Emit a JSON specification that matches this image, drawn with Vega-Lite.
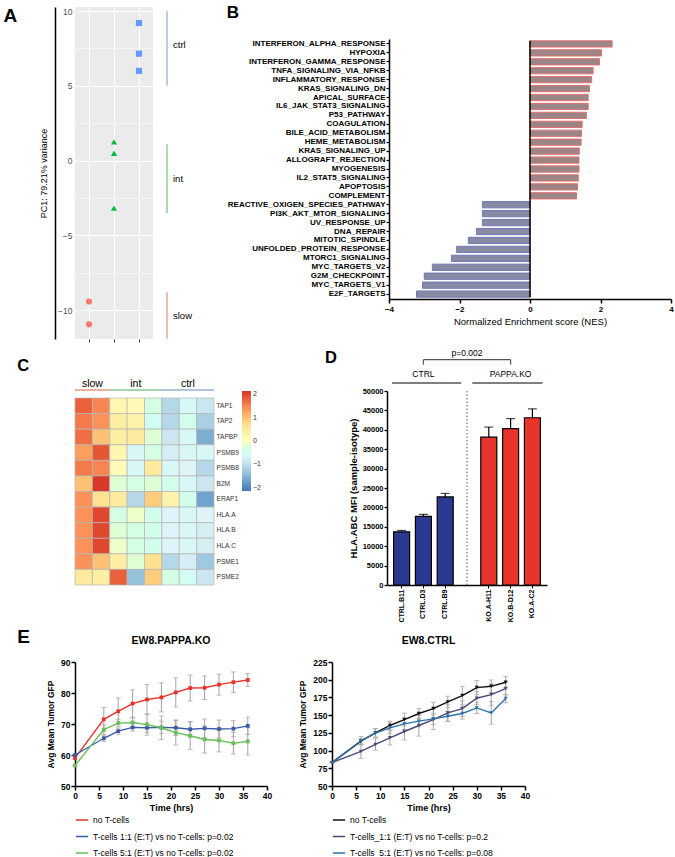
{
  "$schema": "https://vega.github.io/schema/vega-lite/v6.json",
  "background": "white",
  "padding": {"left": 3, "top": 3, "right": 0, "bottom": 0},
  "config": {
    "view": {"stroke": null},
    "font": "Liberation Sans",
    "axis": {"domainColor": "#000", "tickColor": "#000", "labelColor": "#000", "titleColor": "#000", "grid": false, "labelFont": "Liberation Sans", "titleFont": "Liberation Sans", "labelOverlap": false},
    "legend": {"labelFont": "Liberation Sans", "titleFont": "Liberation Sans", "labelColor": "#000"},
    "title": {"font": "Liberation Sans", "color": "#000"},
    "text": {"font": "Liberation Sans"}
  },
  "spacing": 5,
  "resolve": {"scale": {"x": "independent", "y": "independent", "color": "independent", "shape": "independent"}},
  "vconcat": [
    {
      "spacing": 13,
      "resolve": {"scale": {"x": "independent", "y": "independent", "color": "independent", "shape": "independent"}},
      "hconcat": [
        {
          "width": 78,
          "height": 332,
          "view": {"fill": "#ebebeb", "stroke": null},
          "title": {"text": "A", "orient": "left", "anchor": "end", "frame": "group", "angle": 0, "align": "right", "baseline": "top", "fontSize": 19, "fontWeight": "bold", "offset": 8},
          "data": {"values": [
            {"group": "ctrl", "PC1": 9.2}, {"group": "ctrl", "PC1": 7.15}, {"group": "ctrl", "PC1": 6.0},
            {"group": "int", "PC1": 1.25}, {"group": "int", "PC1": 0.49}, {"group": "int", "PC1": -3.18},
            {"group": "slow", "PC1": -9.42}, {"group": "slow", "PC1": -10.95}
          ]},
          "mark": {"type": "point", "filled": true, "size": 38, "opacity": 1},
          "encoding": {
            "x": {"field": "group", "type": "nominal", "scale": {"type": "point", "domain": ["slow", "int", "ctrl"], "padding": 0.56}, "axis": {"title": null, "labels": false, "domain": false, "ticks": true, "tickSize": 3, "tickColor": "#333333", "grid": true, "gridColor": "#ffffff", "gridWidth": 1.1}},
            "y": {"field": "PC1", "type": "quantitative", "scale": {"domain": [-11.93, 10.27], "nice": false, "zero": false}, "axis": {"orient": "left", "offset": 20, "values": [-10, -7.5, -5, -2.5, 0, 2.5, 5, 7.5, 10], "labelExpr": "datum.value % 5 == 0 ? datum.label : ''", "grid": true, "gridColor": "#ffffff", "gridWidth": {"condition": {"test": "datum.value % 5 != 0", "value": 0.5}, "value": 1.1}, "domain": true, "domainWidth": 1.5, "domainColor": "#000000", "ticks": false, "tickSize": 0, "labelPadding": -17, "labelColor": "#4d4d4d", "labelFontSize": 8.5, "title": "PC1: 79.21% variance", "titleFontSize": 9, "titleFontWeight": "normal", "titlePadding": 7}},
            "color": {"field": "group", "type": "nominal", "scale": {"domain": ["slow", "int", "ctrl"], "range": ["#F8766D", "#00BA38", "#619CFF"]}, "legend": null},
            "shape": {"field": "group", "type": "nominal", "scale": {"domain": ["slow", "int", "ctrl"], "range": ["circle", "triangle-up", "square"]}, "legend": null}
          }
        },
        {
          "width": 46,
          "height": 332,
          "data": {"values": [
            {"group": "ctrl", "top": 10.0, "bottom": 5.0, "mid": 7.7},
            {"group": "int", "top": 1.1, "bottom": -3.5, "mid": -1.2},
            {"group": "slow", "top": -8.8, "bottom": -11.93, "mid": -10.4}
          ]},
          "layer": [
            {
              "mark": {"type": "rule", "strokeWidth": 1.6},
              "encoding": {
                "x": {"datum": 0, "type": "quantitative", "scale": {"domain": [0, 1]}, "axis": null},
                "y": {"field": "top", "type": "quantitative", "scale": {"domain": [-11.93, 10.27], "nice": false, "zero": false}, "axis": null},
                "y2": {"field": "bottom"},
                "color": {"field": "group", "type": "nominal", "scale": {"domain": ["slow", "int", "ctrl"], "range": ["#f4aaa3", "#8fd3a1", "#abc1e6"]}, "legend": null}
              }
            },
            {
              "mark": {"type": "text", "align": "left", "dx": 6, "fontSize": 9.5, "color": "#000"},
              "encoding": {
                "x": {"datum": 0, "type": "quantitative"},
                "y": {"field": "mid", "type": "quantitative"},
                "text": {"field": "group"}
              }
            }
          ]
        },
        {
          "width": 282,
          "height": 292,
          "data": {"values": [
            {"pathway": "INTERFERON_ALPHA_RESPONSE", "NES": 2.33},
            {"pathway": "HYPOXIA", "NES": 2.03},
            {"pathway": "INTERFERON_GAMMA_RESPONSE", "NES": 1.97},
            {"pathway": "TNFA_SIGNALING_VIA_NFKB", "NES": 1.79},
            {"pathway": "INFLAMMATORY_RESPONSE", "NES": 1.75},
            {"pathway": "KRAS_SIGNALING_DN", "NES": 1.69},
            {"pathway": "APICAL_SURFACE", "NES": 1.65},
            {"pathway": "IL6_JAK_STAT3_SIGNALING", "NES": 1.65},
            {"pathway": "P53_PATHWAY", "NES": 1.60},
            {"pathway": "COAGULATION", "NES": 1.48},
            {"pathway": "BILE_ACID_METABOLISM", "NES": 1.46},
            {"pathway": "HEME_METABOLISM", "NES": 1.45},
            {"pathway": "KRAS_SIGNALING_UP", "NES": 1.40},
            {"pathway": "ALLOGRAFT_REJECTION", "NES": 1.39},
            {"pathway": "MYOGENESIS", "NES": 1.39},
            {"pathway": "IL2_STAT5_SIGNALING", "NES": 1.37},
            {"pathway": "APOPTOSIS", "NES": 1.35},
            {"pathway": "COMPLEMENT", "NES": 1.32},
            {"pathway": "REACTIVE_OXIGEN_SPECIES_PATHWAY", "NES": -1.35},
            {"pathway": "PI3K_AKT_MTOR_SIGNALING", "NES": -1.35},
            {"pathway": "UV_RESPONSE_UP", "NES": -1.35},
            {"pathway": "DNA_REPAIR", "NES": -1.52},
            {"pathway": "MITOTIC_SPINDLE", "NES": -1.75},
            {"pathway": "UNFOLDED_PROTEIN_RESPONSE", "NES": -2.08},
            {"pathway": "MTORC1_SIGNALING", "NES": -2.23},
            {"pathway": "MYC_TARGETS_V2", "NES": -2.77},
            {"pathway": "G2M_CHECKPOINT", "NES": -3.0},
            {"pathway": "MYC_TARGETS_V1", "NES": -3.05},
            {"pathway": "E2F_TARGETS", "NES": -3.22}
          ]},
          "layer": [
            {
              "mark": {"type": "bar", "strokeWidth": 1},
              "encoding": {
                "y": {"field": "pathway", "type": "nominal", "sort": null, "scale": {"range": [32, 292], "paddingInner": 0.3, "paddingOuter": 0.2}, "axis": {"title": null, "domain": true, "domainWidth": 1.5, "ticks": true, "tickSize": 3, "tickWidth": 1.2, "labelFontSize": 8, "labelFontWeight": "bold", "labelPadding": 1, "labelLimit": 300}},
                "x": {"field": "NES", "type": "quantitative", "scale": {"domain": [-4, 4], "nice": false}, "axis": {"values": [-4, -2, 0, 2, 4], "title": "Normalized Enrichment score (NES)", "titleFontSize": 9.5, "titleFontWeight": "normal", "titlePadding": 3, "labelFontSize": 8, "labelFontWeight": "bold", "tickSize": 4, "tickWidth": 1.5, "domainWidth": 1.5, "labelFlush": false}},
                "fill": {"condition": {"test": "datum.NES > 0", "value": "#9c8586"}, "value": "#878aa2"},
                "stroke": {"condition": {"test": "datum.NES > 0", "value": "#e2706d"}, "value": "#6f78b6"}
              }
            },
            {
              "data": {"values": [{}]},
              "mark": {"type": "rule", "strokeWidth": 1.5, "color": "#000"},
              "encoding": {
                "x": {"datum": 0},
                "y": {"datum": "INTERFERON_ALPHA_RESPONSE", "bandPosition": 0},
                "y2": {"datum": "E2F_TARGETS", "bandPosition": 1}
              }
            },
            {
              "data": {"values": [{}]},
              "mark": {"type": "text", "fontSize": 17, "fontWeight": "bold", "align": "left", "baseline": "alphabetic", "dy": -22.8, "color": "#000"},
              "encoding": {
                "x": {"datum": -8.6},
                "y": {"datum": "INTERFERON_ALPHA_RESPONSE", "bandPosition": 0},
                "text": {"value": "B"}
              }
            }
          ]
        }
      ]
    },
    {
      "spacing": 63,
      "resolve": {"scale": {"x": "independent", "y": "independent", "color": "independent", "shape": "independent"}},
      "hconcat": [
        {
          "width": 139,
          "height": 194,
          "layer": [
            {
              "data": {"values": [
                {"gene": "TAP1", "slow_1": 1.8, "slow_2": 1.5, "int_1": 0.2, "int_2": 0.15, "int_3": -0.3, "ctrl_1": -1.1, "ctrl_2": -0.6, "ctrl_3": -0.9},
                {"gene": "TAP2", "slow_1": 1.6, "slow_2": 1.4, "int_1": 0.4, "int_2": 0.3, "int_3": -0.5, "ctrl_1": -1.1, "ctrl_2": -0.4, "ctrl_3": -1.2},
                {"gene": "TAPBP", "slow_1": 1.7, "slow_2": 1.0, "int_1": 0.4, "int_2": 0.5, "int_3": -0.2, "ctrl_1": -0.9, "ctrl_2": -0.6, "ctrl_3": -1.6},
                {"gene": "PSMB9", "slow_1": 1.3, "slow_2": 1.9, "int_1": 0.2, "int_2": -0.6, "int_3": -0.3, "ctrl_1": -0.8, "ctrl_2": -0.6, "ctrl_3": -0.6},
                {"gene": "PSMB8", "slow_1": 1.6, "slow_2": 1.5, "int_1": 0.1, "int_2": -0.6, "int_3": 0.5, "ctrl_1": -0.6, "ctrl_2": -0.7, "ctrl_3": -1.1},
                {"gene": "B2M", "slow_1": 1.0, "slow_2": 2.1, "int_1": -0.2, "int_2": -0.3, "int_3": -0.2, "ctrl_1": -0.4, "ctrl_2": -0.6, "ctrl_3": -0.9},
                {"gene": "ERAP1", "slow_1": 1.4, "slow_2": 0.7, "int_1": 0.5, "int_2": -1.1, "int_3": 0.9, "ctrl_1": 0.3, "ctrl_2": -0.4, "ctrl_3": -1.7},
                {"gene": "HLA.A", "slow_1": 1.4, "slow_2": 2.0, "int_1": -0.3, "int_2": -0.1, "int_3": -0.4, "ctrl_1": -0.7, "ctrl_2": -0.6, "ctrl_3": -0.7},
                {"gene": "HLA.B", "slow_1": 1.4, "slow_2": 2.0, "int_1": -0.2, "int_2": -0.3, "int_3": -0.4, "ctrl_1": -0.7, "ctrl_2": -0.6, "ctrl_3": -0.8},
                {"gene": "HLA.C", "slow_1": 1.4, "slow_2": 2.0, "int_1": -0.1, "int_2": -0.3, "int_3": -0.4, "ctrl_1": -0.7, "ctrl_2": -0.6, "ctrl_3": -0.8},
                {"gene": "PSME1", "slow_1": 1.4, "slow_2": 1.0, "int_1": 0.4, "int_2": -0.2, "int_3": 0.7, "ctrl_1": -1.1, "ctrl_2": -0.8, "ctrl_3": -1.3},
                {"gene": "PSME2", "slow_1": 0.5, "slow_2": 0.4, "int_1": 1.8, "int_2": -1.4, "int_3": 0.9, "ctrl_1": -0.3, "ctrl_2": -0.5, "ctrl_3": -0.9}
              ]},
              "transform": [{"fold": ["slow_1", "slow_2", "int_1", "int_2", "int_3", "ctrl_1", "ctrl_2", "ctrl_3"], "as": ["sample", "z"]}],
              "mark": {"type": "rect", "stroke": "#b5b5b5", "strokeWidth": 0.7},
              "encoding": {
                "x": {"field": "sample", "type": "nominal", "scale": {"domain": ["slow_1", "slow_2", "int_1", "int_2", "int_3", "ctrl_1", "ctrl_2", "ctrl_3"], "paddingInner": 0, "paddingOuter": 0}, "axis": null},
                "y": {"field": "gene", "type": "nominal", "scale": {"domain": ["TAP1", "TAP2", "TAPBP", "PSMB9", "PSMB8", "B2M", "ERAP1", "HLA.A", "HLA.B", "HLA.C", "PSME1", "PSME2"], "range": [7, 194], "paddingInner": 0, "paddingOuter": 0}, "axis": {"orient": "right", "domain": false, "ticks": false, "labelFontSize": 6.6, "labelColor": "#333333", "labelPadding": 2, "title": null}},
                "color": {"field": "z", "type": "quantitative", "scale": {"domain": [-2.15, -1.43, -0.72, 0, 0.72, 1.43, 2.15], "range": ["#4575b4", "#91bfdb", "#e0f3f8", "#ffffbf", "#fee090", "#fc8d59", "#d73027"]}, "legend": {"title": null, "orient": "right", "offset": 3, "direction": "vertical", "gradientLength": 100, "gradientThickness": 9, "gradientStrokeWidth": 0, "values": [-2, -1, 0, 1, 2], "labelFontSize": 7, "labelColor": "#333333"}}
              }
            },
            {
              "data": {"values": [{}]},
              "mark": {"type": "text", "fontSize": 16.5, "fontWeight": "bold", "align": "left", "baseline": "alphabetic", "dy": -26.7, "color": "#000"},
              "encoding": {"x": {"datum": "slow_1", "bandPosition": -3.32}, "y": {"datum": "TAP1", "bandPosition": 0}, "text": {"value": "C"}}
            },
            {
              "data": {"values": [{}]},
              "mark": {"type": "text", "fontSize": 10.5, "baseline": "alphabetic", "dy": -11, "color": "#000"},
              "encoding": {"x": {"datum": "slow_2", "bandPosition": 0}, "y": {"datum": "TAP1", "bandPosition": 0}, "text": {"value": "slow"}}
            },
            {
              "data": {"values": [{}]},
              "mark": {"type": "text", "fontSize": 10.5, "baseline": "alphabetic", "dy": -11, "color": "#000"},
              "encoding": {"x": {"datum": "int_2"}, "y": {"datum": "TAP1", "bandPosition": 0}, "text": {"value": "int"}}
            },
            {
              "data": {"values": [{}]},
              "mark": {"type": "text", "fontSize": 10.5, "baseline": "alphabetic", "dy": -11, "color": "#000"},
              "encoding": {"x": {"datum": "ctrl_2"}, "y": {"datum": "TAP1", "bandPosition": 0}, "text": {"value": "ctrl"}}
            },
            {
              "data": {"values": [{}]},
              "mark": {"type": "rule", "strokeWidth": 1, "color": "#d9623f", "yOffset": -8},
              "encoding": {"x": {"datum": "slow_1", "bandPosition": 0}, "x2": {"datum": "slow_2", "bandPosition": 1}, "y": {"datum": "TAP1", "bandPosition": 0}}
            },
            {
              "data": {"values": [{}]},
              "mark": {"type": "rule", "strokeWidth": 1, "color": "#4fae5a", "yOffset": -8},
              "encoding": {"x": {"datum": "int_1", "bandPosition": 0}, "x2": {"datum": "int_3", "bandPosition": 1}, "y": {"datum": "TAP1", "bandPosition": 0}}
            },
            {
              "data": {"values": [{}]},
              "mark": {"type": "rule", "strokeWidth": 1, "color": "#6489bd", "yOffset": -8},
              "encoding": {"x": {"datum": "ctrl_1", "bandPosition": 0}, "x2": {"datum": "ctrl_3", "bandPosition": 1}, "y": {"datum": "TAP1", "bandPosition": 0}}
            }
          ]
        },
        {
          "width": 160,
          "height": 194,
          "data": {"values": [
            {"sample": "CTRL.B11", "group": "CTRL", "mfi": 13700, "hi": 14060},
            {"sample": "CTRL.D3", "group": "CTRL", "mfi": 17700, "hi": 18200},
            {"sample": "CTRL.B9", "group": "CTRL", "mfi": 22700, "hi": 23600},
            {"sample": "KO.A-H11", "group": "PAPPA.KO", "mfi": 38100, "hi": 40700},
            {"sample": "KO.B-D12", "group": "PAPPA.KO", "mfi": 40300, "hi": 42900},
            {"sample": "KO.A-C2", "group": "PAPPA.KO", "mfi": 43100, "hi": 45400}
          ]},
          "layer": [
            {
              "mark": {"type": "bar", "stroke": "#000", "strokeWidth": 1.2},
              "encoding": {
                "x": {"field": "sample", "type": "nominal", "scale": {"domain": ["CTRL.B11", "CTRL.D3", "CTRL.B9", " ", "KO.A-H11", "KO.B-D12", "KO.A-C2"], "paddingInner": 0.266, "paddingOuter": 0.303}, "axis": {"title": null, "labelAngle": 270, "labelFontSize": 7, "labelFontWeight": "bold", "labelPadding": 1, "ticks": true, "tickSize": 3, "tickWidth": 1, "tickOpacity": {"condition": {"test": "datum.value === ' '", "value": 0}, "value": 1}, "domain": true, "domainWidth": 1.5}},
                "y": {"field": "mfi", "type": "quantitative", "scale": {"domain": [0, 50000], "nice": false}, "axis": {"values": [0, 5000, 10000, 15000, 20000, 25000, 30000, 35000, 40000, 45000, 50000], "format": "d", "labelOverlap": false, "labelFontSize": 7.5, "labelFontWeight": "bold", "labelPadding": 1, "tickSize": 3, "tickWidth": 1.3, "domainWidth": 1.5, "title": "HLA.ABC MFI (sample-isotype)", "titleFontSize": 9.5, "titleFontWeight": "bold", "titlePadding": 4}},
                "color": {"field": "group", "type": "nominal", "scale": {"domain": ["CTRL", "PAPPA.KO"], "range": ["#2b3990", "#e8342b"]}, "legend": null}
              }
            },
            {
              "mark": {"type": "rule", "strokeWidth": 1.2, "color": "#000"},
              "encoding": {
                "x": {"field": "sample", "type": "nominal"},
                "y": {"field": "mfi", "type": "quantitative", "axis": {"values": [0, 5000, 10000, 15000, 20000, 25000, 30000, 35000, 40000, 45000, 50000], "format": "d", "labelOverlap": false, "labelFontSize": 7.5, "labelFontWeight": "bold", "labelPadding": 1, "tickSize": 3, "tickWidth": 1.3, "domainWidth": 1.5, "title": "HLA.ABC MFI (sample-isotype)", "titleFontSize": 9.5, "titleFontWeight": "bold", "titlePadding": 4}},
                "y2": {"field": "hi"}
              }
            },
            {
              "mark": {"type": "tick", "size": 9, "thickness": 1.2, "color": "#000", "orient": "horizontal"},
              "encoding": {
                "x": {"field": "sample", "type": "nominal"},
                "y": {"field": "hi", "type": "quantitative", "axis": {"values": [0, 5000, 10000, 15000, 20000, 25000, 30000, 35000, 40000, 45000, 50000], "format": "d", "labelOverlap": false, "labelFontSize": 7.5, "labelFontWeight": "bold", "labelPadding": 1, "tickSize": 3, "tickWidth": 1.3, "domainWidth": 1.5, "title": "HLA.ABC MFI (sample-isotype)", "titleFontSize": 9.5, "titleFontWeight": "bold", "titlePadding": 4}}
              }
            },
            {
              "data": {"values": [{}]},
              "mark": {"type": "rule", "strokeWidth": 1, "color": "#555555", "strokeDash": [1.5, 2]},
              "encoding": {"x": {"datum": " "}}
            },
            {
              "data": {"values": [{}]},
              "mark": {"type": "text", "fontSize": 16.5, "fontWeight": "bold", "align": "left", "baseline": "alphabetic", "dy": -28, "color": "#000"},
              "encoding": {"x": {"datum": "CTRL.B11", "bandPosition": -4.29}, "y": {"datum": 50000, "axis": {"values": [0, 5000, 10000, 15000, 20000, 25000, 30000, 35000, 40000, 45000, 50000], "format": "d", "labelOverlap": false, "labelFontSize": 7.5, "labelFontWeight": "bold", "labelPadding": 1, "tickSize": 3, "tickWidth": 1.3, "domainWidth": 1.5, "title": "HLA.ABC MFI (sample-isotype)", "titleFontSize": 9.5, "titleFontWeight": "bold", "titlePadding": 4}}, "text": {"value": "D"}}
            },
            {
              "data": {"values": [{}]},
              "mark": {"type": "text", "fontSize": 8.5, "baseline": "alphabetic", "color": "#000"},
              "encoding": {"x": {"datum": "CTRL.D3"}, "y": {"datum": 53530, "axis": {"values": [0, 5000, 10000, 15000, 20000, 25000, 30000, 35000, 40000, 45000, 50000], "format": "d", "labelOverlap": false, "labelFontSize": 7.5, "labelFontWeight": "bold", "labelPadding": 1, "tickSize": 3, "tickWidth": 1.3, "domainWidth": 1.5, "title": "HLA.ABC MFI (sample-isotype)", "titleFontSize": 9.5, "titleFontWeight": "bold", "titlePadding": 4}}, "text": {"value": "CTRL"}}
            },
            {
              "data": {"values": [{}]},
              "mark": {"type": "text", "fontSize": 8.5, "baseline": "alphabetic", "color": "#000"},
              "encoding": {"x": {"datum": "KO.B-D12"}, "y": {"datum": 53530, "axis": {"values": [0, 5000, 10000, 15000, 20000, 25000, 30000, 35000, 40000, 45000, 50000], "format": "d", "labelOverlap": false, "labelFontSize": 7.5, "labelFontWeight": "bold", "labelPadding": 1, "tickSize": 3, "tickWidth": 1.3, "domainWidth": 1.5, "title": "HLA.ABC MFI (sample-isotype)", "titleFontSize": 9.5, "titleFontWeight": "bold", "titlePadding": 4}}, "text": {"value": "PAPPA.KO"}}
            },
            {
              "data": {"values": [{}]},
              "mark": {"type": "rule", "strokeWidth": 1.2, "color": "#000"},
              "encoding": {"x": {"datum": "CTRL.B11", "bandPosition": -0.1}, "x2": {"datum": "CTRL.B9", "bandPosition": 1.5}, "y": {"datum": 52060, "axis": {"values": [0, 5000, 10000, 15000, 20000, 25000, 30000, 35000, 40000, 45000, 50000], "format": "d", "labelOverlap": false, "labelFontSize": 7.5, "labelFontWeight": "bold", "labelPadding": 1, "tickSize": 3, "tickWidth": 1.3, "domainWidth": 1.5, "title": "HLA.ABC MFI (sample-isotype)", "titleFontSize": 9.5, "titleFontWeight": "bold", "titlePadding": 4}}}
            },
            {
              "data": {"values": [{}]},
              "mark": {"type": "rule", "strokeWidth": 1.2, "color": "#000"},
              "encoding": {"x": {"datum": "KO.A-H11", "bandPosition": -0.53}, "x2": {"datum": "KO.A-C2", "bandPosition": 1.14}, "y": {"datum": 52060, "axis": {"values": [0, 5000, 10000, 15000, 20000, 25000, 30000, 35000, 40000, 45000, 50000], "format": "d", "labelOverlap": false, "labelFontSize": 7.5, "labelFontWeight": "bold", "labelPadding": 1, "tickSize": 3, "tickWidth": 1.3, "domainWidth": 1.5, "title": "HLA.ABC MFI (sample-isotype)", "titleFontSize": 9.5, "titleFontWeight": "bold", "titlePadding": 4}}}
            },
            {
              "data": {"values": [{}]},
              "mark": {"type": "rule", "strokeWidth": 1.2, "color": "#555555"},
              "encoding": {"x": {"datum": "CTRL.D3"}, "x2": {"datum": "KO.B-D12"}, "y": {"datum": 58070, "axis": {"values": [0, 5000, 10000, 15000, 20000, 25000, 30000, 35000, 40000, 45000, 50000], "format": "d", "labelOverlap": false, "labelFontSize": 7.5, "labelFontWeight": "bold", "labelPadding": 1, "tickSize": 3, "tickWidth": 1.3, "domainWidth": 1.5, "title": "HLA.ABC MFI (sample-isotype)", "titleFontSize": 9.5, "titleFontWeight": "bold", "titlePadding": 4}}}
            },
            {
              "data": {"values": [{}]},
              "mark": {"type": "rule", "strokeWidth": 1.2, "color": "#555555"},
              "encoding": {"x": {"datum": "CTRL.D3"}, "y": {"datum": 58070, "axis": {"values": [0, 5000, 10000, 15000, 20000, 25000, 30000, 35000, 40000, 45000, 50000], "format": "d", "labelOverlap": false, "labelFontSize": 7.5, "labelFontWeight": "bold", "labelPadding": 1, "tickSize": 3, "tickWidth": 1.3, "domainWidth": 1.5, "title": "HLA.ABC MFI (sample-isotype)", "titleFontSize": 9.5, "titleFontWeight": "bold", "titlePadding": 4}}, "y2": {"datum": 56800}}
            },
            {
              "data": {"values": [{}]},
              "mark": {"type": "rule", "strokeWidth": 1.2, "color": "#555555"},
              "encoding": {"x": {"datum": "KO.B-D12"}, "y": {"datum": 58070, "axis": {"values": [0, 5000, 10000, 15000, 20000, 25000, 30000, 35000, 40000, 45000, 50000], "format": "d", "labelOverlap": false, "labelFontSize": 7.5, "labelFontWeight": "bold", "labelPadding": 1, "tickSize": 3, "tickWidth": 1.3, "domainWidth": 1.5, "title": "HLA.ABC MFI (sample-isotype)", "titleFontSize": 9.5, "titleFontWeight": "bold", "titlePadding": 4}}, "y2": {"datum": 56800}}
            },
            {
              "data": {"values": [{}]},
              "mark": {"type": "text", "fontSize": 8.5, "baseline": "alphabetic", "dy": -4, "color": "#000"},
              "encoding": {"x": {"datum": " "}, "y": {"datum": 58070, "axis": {"values": [0, 5000, 10000, 15000, 20000, 25000, 30000, 35000, 40000, 45000, 50000], "format": "d", "labelOverlap": false, "labelFontSize": 7.5, "labelFontWeight": "bold", "labelPadding": 1, "tickSize": 3, "tickWidth": 1.3, "domainWidth": 1.5, "title": "HLA.ABC MFI (sample-isotype)", "titleFontSize": 9.5, "titleFontWeight": "bold", "titlePadding": 4}}, "text": {"value": "p=0.002"}}
            }
          ]
        }
      ]
    },
    {
      "spacing": 26,
      "title": {"text": "E", "orient": "left", "anchor": "end", "frame": "group", "angle": 0, "align": "right", "baseline": "bottom", "dy": -15, "fontSize": 19, "fontWeight": "bold", "offset": 4},
      "resolve": {"scale": {"x": "independent", "y": "independent", "color": "independent", "shape": "independent"}},
      "hconcat": [
        {
          "width": 192,
          "height": 124,
          "title": {"text": "EW8.PAPPA.KO", "fontSize": 10.5, "fontWeight": "bold", "offset": 3.5, "baseline": "alphabetic"},
          "data": {"values": [
            {"series": "no T-cells", "t": 0, "mean": 59.0, "lo": 59.0, "hi": 59.0},
            {"series": "no T-cells", "t": 6, "mean": 71.5, "lo": 67.7, "hi": 75.3},
            {"series": "no T-cells", "t": 9, "mean": 74.1, "lo": 69.8, "hi": 78.4},
            {"series": "no T-cells", "t": 12, "mean": 76.6, "lo": 72.2, "hi": 81.0},
            {"series": "no T-cells", "t": 15, "mean": 77.9, "lo": 73.1, "hi": 82.7},
            {"series": "no T-cells", "t": 18, "mean": 78.6, "lo": 73.9, "hi": 83.3},
            {"series": "no T-cells", "t": 21, "mean": 80.2, "lo": 75.5, "hi": 84.9},
            {"series": "no T-cells", "t": 24, "mean": 81.6, "lo": 77.4, "hi": 85.8},
            {"series": "no T-cells", "t": 27, "mean": 81.7, "lo": 77.9, "hi": 85.5},
            {"series": "no T-cells", "t": 30, "mean": 82.7, "lo": 79.3, "hi": 86.1},
            {"series": "no T-cells", "t": 33, "mean": 83.5, "lo": 80.2, "hi": 86.8},
            {"series": "no T-cells", "t": 36, "mean": 84.2, "lo": 82.1, "hi": 86.3},
            {"series": "T-cells 1:1 (E:T) vs no T-cells: p=0.02", "t": 0, "mean": 60.0, "lo": 60.0, "hi": 60.0},
            {"series": "T-cells 1:1 (E:T) vs no T-cells: p=0.02", "t": 6, "mean": 65.4, "lo": 64.4, "hi": 66.4},
            {"series": "T-cells 1:1 (E:T) vs no T-cells: p=0.02", "t": 9, "mean": 67.7, "lo": 66.7, "hi": 68.7},
            {"series": "T-cells 1:1 (E:T) vs no T-cells: p=0.02", "t": 12, "mean": 68.9, "lo": 67.7, "hi": 70.1},
            {"series": "T-cells 1:1 (E:T) vs no T-cells: p=0.02", "t": 15, "mean": 68.8, "lo": 67.3, "hi": 70.3},
            {"series": "T-cells 1:1 (E:T) vs no T-cells: p=0.02", "t": 18, "mean": 68.9, "lo": 66.9, "hi": 70.9},
            {"series": "T-cells 1:1 (E:T) vs no T-cells: p=0.02", "t": 21, "mean": 68.8, "lo": 66.3, "hi": 71.3},
            {"series": "T-cells 1:1 (E:T) vs no T-cells: p=0.02", "t": 24, "mean": 68.3, "lo": 65.8, "hi": 70.8},
            {"series": "T-cells 1:1 (E:T) vs no T-cells: p=0.02", "t": 27, "mean": 68.6, "lo": 65.6, "hi": 71.6},
            {"series": "T-cells 1:1 (E:T) vs no T-cells: p=0.02", "t": 30, "mean": 68.4, "lo": 65.5, "hi": 71.3},
            {"series": "T-cells 1:1 (E:T) vs no T-cells: p=0.02", "t": 33, "mean": 68.5, "lo": 65.9, "hi": 71.1},
            {"series": "T-cells 1:1 (E:T) vs no T-cells: p=0.02", "t": 36, "mean": 69.4, "lo": 66.6, "hi": 72.2},
            {"series": "T-cells 5:1 (E:T) vs no T-cells: p=0.02", "t": 0, "mean": 56.6, "lo": 56.6, "hi": 56.6},
            {"series": "T-cells 5:1 (E:T) vs no T-cells: p=0.02", "t": 6, "mean": 68.2, "lo": 66.7, "hi": 69.7},
            {"series": "T-cells 5:1 (E:T) vs no T-cells: p=0.02", "t": 9, "mean": 70.3, "lo": 69.1, "hi": 71.5},
            {"series": "T-cells 5:1 (E:T) vs no T-cells: p=0.02", "t": 12, "mean": 70.5, "lo": 69.0, "hi": 72.0},
            {"series": "T-cells 5:1 (E:T) vs no T-cells: p=0.02", "t": 15, "mean": 69.8, "lo": 66.4, "hi": 73.2},
            {"series": "T-cells 5:1 (E:T) vs no T-cells: p=0.02", "t": 18, "mean": 68.8, "lo": 65.0, "hi": 72.6},
            {"series": "T-cells 5:1 (E:T) vs no T-cells: p=0.02", "t": 21, "mean": 67.2, "lo": 63.2, "hi": 71.2},
            {"series": "T-cells 5:1 (E:T) vs no T-cells: p=0.02", "t": 24, "mean": 66.2, "lo": 61.8, "hi": 70.6},
            {"series": "T-cells 5:1 (E:T) vs no T-cells: p=0.02", "t": 27, "mean": 65.0, "lo": 60.6, "hi": 69.4},
            {"series": "T-cells 5:1 (E:T) vs no T-cells: p=0.02", "t": 30, "mean": 64.7, "lo": 61.0, "hi": 68.4},
            {"series": "T-cells 5:1 (E:T) vs no T-cells: p=0.02", "t": 33, "mean": 63.8, "lo": 60.3, "hi": 67.3},
            {"series": "T-cells 5:1 (E:T) vs no T-cells: p=0.02", "t": 36, "mean": 64.4, "lo": 60.0, "hi": 68.8}
          ]},
          "encoding": {
            "x": {"field": "t", "type": "quantitative", "scale": {"domain": [0, 40], "nice": false}, "axis": {"values": [0, 5, 10, 15, 20, 25, 30, 35, 40], "labelFontSize": 8.5, "labelFontWeight": "bold", "labelFlush": false, "labelPadding": 1, "tickSize": 4, "tickWidth": 1.5, "domainWidth": 1.5, "title": "Time (hrs)", "titleFontSize": 9, "titleFontWeight": "bold", "titlePadding": 4}}
          },
          "layer": [
            {
              "mark": {"type": "errorbar", "ticks": true, "color": "#a3a3a3", "thickness": 1},
              "encoding": {
                "y": {"field": "lo", "type": "quantitative", "scale": {"domain": [50, 90], "nice": false, "zero": false}, "axis": {"values": [50, 60, 70, 80, 90], "labelOverlap": false, "labelFontSize": 8.5, "labelFontWeight": "bold", "labelPadding": 1, "tickSize": 4, "tickWidth": 1.5, "domainWidth": 1.5, "title": "Avg Mean Tumor GFP", "titleFontSize": 8.5, "titleFontWeight": "bold", "titlePadding": 5}},
                "y2": {"field": "hi"}
              }
            },
            {
              "mark": {"type": "line", "strokeWidth": 1.4, "point": {"filled": true, "shape": "square", "size": 14}},
              "encoding": {
                "y": {"field": "mean", "type": "quantitative", "axis": {"values": [50, 60, 70, 80, 90], "labelOverlap": false, "labelFontSize": 8.5, "labelFontWeight": "bold", "labelPadding": 1, "tickSize": 4, "tickWidth": 1.5, "domainWidth": 1.5, "title": "Avg Mean Tumor GFP", "titleFontSize": 8.5, "titleFontWeight": "bold", "titlePadding": 5}},
                "color": {"field": "series", "type": "nominal", "sort": null, "scale": {"domain": ["no T-cells", "T-cells 1:1 (E:T) vs no T-cells: p=0.02", "T-cells 5:1 (E:T) vs no T-cells: p=0.02"], "range": ["#e8312a", "#3b5ba8", "#6abf5a"]}, "legend": {"title": null, "orient": "bottom", "direction": "vertical", "symbolType": "stroke", "symbolStrokeWidth": 1.5, "symbolSize": 150, "labelFontSize": 8.5, "labelLimit": 300, "rowPadding": 4.5, "offset": 0}}
              }
            }
          ]
        },
        {
          "width": 193,
          "height": 124,
          "title": {"text": "EW8.CTRL", "fontSize": 10.5, "fontWeight": "bold", "offset": 3.5, "baseline": "alphabetic"},
          "data": {"values": [
            {"series": "no T-cells", "t": 0, "mean": 83.0, "lo": 83.0, "hi": 83.0},
            {"series": "no T-cells", "t": 6, "mean": 113.3, "lo": 109.3, "hi": 117.3},
            {"series": "no T-cells", "t": 9, "mean": 125.0, "lo": 119.0, "hi": 131.0},
            {"series": "no T-cells", "t": 12, "mean": 135.4, "lo": 129.4, "hi": 141.4},
            {"series": "no T-cells", "t": 15, "mean": 143.8, "lo": 134.8, "hi": 152.8},
            {"series": "no T-cells", "t": 18, "mean": 152.3, "lo": 145.3, "hi": 159.3},
            {"series": "no T-cells", "t": 21, "mean": 159.3, "lo": 150.3, "hi": 168.3},
            {"series": "no T-cells", "t": 24, "mean": 168.7, "lo": 160.7, "hi": 176.7},
            {"series": "no T-cells", "t": 27, "mean": 177.6, "lo": 164.6, "hi": 190.6},
            {"series": "no T-cells", "t": 30, "mean": 188.9, "lo": 178.9, "hi": 198.9},
            {"series": "no T-cells", "t": 33, "mean": 190.7, "lo": 181.7, "hi": 199.7},
            {"series": "no T-cells", "t": 36, "mean": 196.4, "lo": 188.4, "hi": 204.4},
            {"series": "T-cells_1:1 (E:T) vs no T-cells: p=0.2", "t": 0, "mean": 83.0, "lo": 83.0, "hi": 83.0},
            {"series": "T-cells_1:1 (E:T) vs no T-cells: p=0.2", "t": 6, "mean": 98.8, "lo": 88.8, "hi": 108.8},
            {"series": "T-cells_1:1 (E:T) vs no T-cells: p=0.2", "t": 9, "mean": 108.6, "lo": 100.6, "hi": 116.6},
            {"series": "T-cells_1:1 (E:T) vs no T-cells: p=0.2", "t": 12, "mean": 118.0, "lo": 108.0, "hi": 128.0},
            {"series": "T-cells_1:1 (E:T) vs no T-cells: p=0.2", "t": 15, "mean": 126.9, "lo": 114.9, "hi": 138.9},
            {"series": "T-cells_1:1 (E:T) vs no T-cells: p=0.2", "t": 18, "mean": 135.4, "lo": 120.4, "hi": 150.4},
            {"series": "T-cells_1:1 (E:T) vs no T-cells: p=0.2", "t": 21, "mean": 143.8, "lo": 129.8, "hi": 157.8},
            {"series": "T-cells_1:1 (E:T) vs no T-cells: p=0.2", "t": 24, "mean": 153.2, "lo": 141.2, "hi": 165.2},
            {"series": "T-cells_1:1 (E:T) vs no T-cells: p=0.2", "t": 27, "mean": 159.3, "lo": 148.3, "hi": 170.3},
            {"series": "T-cells_1:1 (E:T) vs no T-cells: p=0.2", "t": 30, "mean": 173.9, "lo": 164.9, "hi": 182.9},
            {"series": "T-cells_1:1 (E:T) vs no T-cells: p=0.2", "t": 33, "mean": 179.0, "lo": 164.0, "hi": 194.0},
            {"series": "T-cells_1:1 (E:T) vs no T-cells: p=0.2", "t": 36, "mean": 187.5, "lo": 178.5, "hi": 196.5},
            {"series": "T-cells_5:1 (E:T) vs no T-cells: p=0.08", "t": 0, "mean": 83.0, "lo": 83.0, "hi": 83.0},
            {"series": "T-cells_5:1 (E:T) vs no T-cells: p=0.08", "t": 6, "mean": 113.8, "lo": 107.8, "hi": 119.8},
            {"series": "T-cells_5:1 (E:T) vs no T-cells: p=0.08", "t": 9, "mean": 124.6, "lo": 118.6, "hi": 130.6},
            {"series": "T-cells_5:1 (E:T) vs no T-cells: p=0.08", "t": 12, "mean": 132.1, "lo": 124.1, "hi": 140.1},
            {"series": "T-cells_5:1 (E:T) vs no T-cells: p=0.08", "t": 15, "mean": 137.7, "lo": 129.7, "hi": 145.7},
            {"series": "T-cells_5:1 (E:T) vs no T-cells: p=0.08", "t": 18, "mean": 141.5, "lo": 133.5, "hi": 149.5},
            {"series": "T-cells_5:1 (E:T) vs no T-cells: p=0.08", "t": 21, "mean": 144.8, "lo": 136.8, "hi": 152.8},
            {"series": "T-cells_5:1 (E:T) vs no T-cells: p=0.08", "t": 24, "mean": 148.5, "lo": 141.5, "hi": 155.5},
            {"series": "T-cells_5:1 (E:T) vs no T-cells: p=0.08", "t": 27, "mean": 152.3, "lo": 144.3, "hi": 160.3},
            {"series": "T-cells_5:1 (E:T) vs no T-cells: p=0.08", "t": 30, "mean": 160.2, "lo": 152.2, "hi": 168.2},
            {"series": "T-cells_5:1 (E:T) vs no T-cells: p=0.08", "t": 33, "mean": 153.2, "lo": 137.2, "hi": 169.2},
            {"series": "T-cells_5:1 (E:T) vs no T-cells: p=0.08", "t": 36, "mean": 173.4, "lo": 167.4, "hi": 179.4}
          ]},
          "encoding": {
            "x": {"field": "t", "type": "quantitative", "scale": {"domain": [0, 40], "nice": false}, "axis": {"values": [0, 5, 10, 15, 20, 25, 30, 35, 40], "labelFontSize": 8.5, "labelFontWeight": "bold", "labelFlush": false, "labelPadding": 1, "tickSize": 4, "tickWidth": 1.5, "domainWidth": 1.5, "title": "Time (hrs)", "titleFontSize": 9, "titleFontWeight": "bold", "titlePadding": 4}}
          },
          "layer": [
            {
              "mark": {"type": "errorbar", "ticks": true, "color": "#a3a3a3", "thickness": 1},
              "encoding": {
                "y": {"field": "lo", "type": "quantitative", "scale": {"domain": [50, 225], "nice": false, "zero": false}, "axis": {"values": [50, 75, 100, 125, 150, 175, 200, 225], "labelOverlap": false, "labelFontSize": 8.5, "labelFontWeight": "bold", "labelPadding": 1, "tickSize": 4, "tickWidth": 1.5, "domainWidth": 1.5, "title": "Avg Mean Tumor GFP", "titleFontSize": 8.5, "titleFontWeight": "bold", "titlePadding": 5}},
                "y2": {"field": "hi"}
              }
            },
            {
              "mark": {"type": "line", "strokeWidth": 1.4, "point": {"filled": true, "shape": "triangle-down", "size": 16}},
              "encoding": {
                "y": {"field": "mean", "type": "quantitative", "axis": {"values": [50, 75, 100, 125, 150, 175, 200, 225], "labelOverlap": false, "labelFontSize": 8.5, "labelFontWeight": "bold", "labelPadding": 1, "tickSize": 4, "tickWidth": 1.5, "domainWidth": 1.5, "title": "Avg Mean Tumor GFP", "titleFontSize": 8.5, "titleFontWeight": "bold", "titlePadding": 5}},
                "color": {"field": "series", "type": "nominal", "sort": null, "scale": {"domain": ["no T-cells", "T-cells_1:1 (E:T) vs no T-cells: p=0.2", "T-cells_5:1 (E:T) vs no T-cells: p=0.08"], "range": ["#111111", "#4a4a78", "#2e72a8"]}, "legend": {"title": null, "orient": "bottom", "direction": "vertical", "symbolType": "stroke", "symbolStrokeWidth": 1.5, "symbolSize": 150, "labelFontSize": 8.5, "labelLimit": 300, "rowPadding": 4.5, "offset": 0}}
              }
            }
          ]
        }
      ]
    }
  ]
}
